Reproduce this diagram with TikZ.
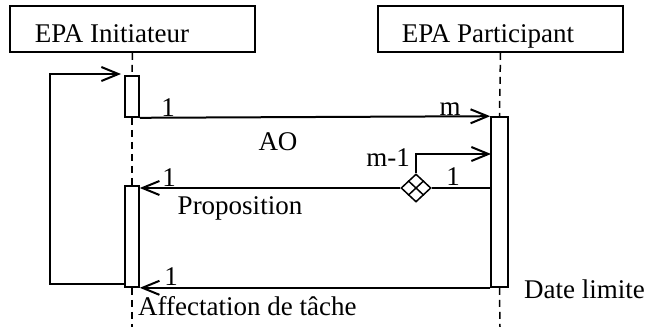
\documentclass[tikz,border=0pt]{standalone}
\usepackage{fontspec}
\setmainfont{Liberation Serif}
\usetikzlibrary{arrows.meta,shapes.geometric,calc}
\begin{document}
\begin{tikzpicture}[x=1pt,y=-1pt,
  lbl/.style={font=\fontsize{27}{32}\selectfont, inner sep=0pt, anchor=base},
  lifebox/.style={draw, line width=1.6pt, minimum width=245pt, minimum height=46pt, inner sep=0pt},
  bar/.style={draw, fill=white, line width=1.6pt, inner sep=0pt},
  life/.style={line width=1.5pt, dash pattern=on 7pt off 5pt},
  wire/.style={line width=2pt},
  msg/.style={line width=2pt, -{Straight Barb[length=17pt,width=14pt,line width=2pt]}}]

\useasboundingbox (0,0) rectangle (646,327);

% participant boxes
\node[lifebox] (ib) at (132.5,29) {};
\node[lifebox] (rb) at (500.5,29) {};
\node[lbl] (it) at (112,42) {EPA Initiateur};
\node[lbl] (rt) at (488,42) {EPA Participant};

% activation bars
\node[bar, minimum width=14pt, minimum height=41pt] (a1) at (132,96.5) {};
\node[bar, minimum width=14pt, minimum height=101pt] (a2) at (132,236.5) {};
\node[bar, minimum width=17pt, minimum height=170pt] (r1) at (499.5,202) {};

% lifelines
\coordinate (lend) at (132,327);
\coordinate (rend) at (500,327);
\draw[life] (ib.south) -- (a1.north);
\draw[life] (a1.south) -- (a2.north);
\draw[life] (a2.south) -- (lend);
\draw[life] (rb.south) -- (r1.north);
\draw[life] (r1.south) -- (rend);

% AO message
\draw[msg] (a1.south east) -- (r1.north west);

% self loop
\coordinate (lpA) at (125,284);
\coordinate (lpB) at (50,284);
\coordinate (lpC) at (50,74);
\coordinate (lpT) at (121,74);
\draw[msg] (lpA) -- (lpB) -- (lpC) -- (lpT);

% diamond
\node[draw, diamond, minimum width=30pt, minimum height=28pt, inner sep=0pt, line width=1.5pt, fill=white] (dm) at (416,188) {};
\draw[line width=1.5pt] ($(dm.north)!0.5!(dm.west)$) -- ($(dm.south)!0.5!(dm.east)$);
\draw[line width=1.5pt] ($(dm.north)!0.5!(dm.east)$) -- ($(dm.south)!0.5!(dm.west)$);

% proposition
\draw[msg] (dm.west) -- (a2.east |- dm.west);
\draw[wire] (dm.east) -- (r1.west |- dm.east);
\coordinate (mt) at (491,154);
\draw[msg] (dm.north) |- (mt);

% final message
\draw[msg] (r1.south west) -- (a2.south east);

% labels
\node[lbl] (n1) at (168,116) {1};
\node[lbl] (nm) at (450,115) {m};
\node[lbl] (ao) at (278,150) {AO};
\node[lbl] (nm1) at (388,166.5) {m-1};
\node[lbl] (n2) at (453,185) {1};
\node[lbl] (n3) at (169,186.5) {1};
\node[lbl] (prop) at (240,214) {Proposition};
\node[lbl] (n4) at (171,285) {1};
\node[lbl, anchor=base west] (aff) at (138,315) {Affectation de tâche};
\node[lbl, anchor=base west] (dl) at (524,298) {Date limite};
\end{tikzpicture}
\end{document}
